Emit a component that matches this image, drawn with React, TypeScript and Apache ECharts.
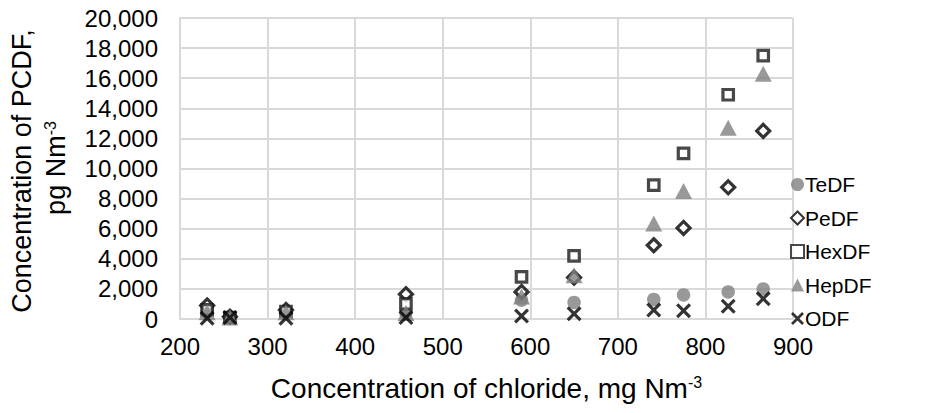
import React, { useEffect, useRef } from "react";
import * as echarts from "echarts";

const chloride = [231, 257, 321, 458, 590, 650, 741, 775, 826, 866];
const teDF = [500, 150, 500, 400, 1250, 1100, 1300, 1600, 1800, 2000];
const peDF = [900, 150, 600, 1650, 1800, 2750, 4900, 6050, 8750, 12500];
const hexDF = [600, 100, 500, 1000, 2800, 4200, 8900, 11000, 14900, 17500];
const hepDF = [450, 100, 450, 400, 1500, 2900, 6350, 8500, 12700, 16300];
const oDF = [50, 100, 50, 100, 200, 350, 600, 550, 850, 1350];

const seriesNames = ["TeDF", "PeDF", "HexDF", "HepDF", "ODF"];
const yTitleLine1 = "Concentration of PCDF,";
const yTitleLine2 = "pg Nm{sup|-3}";
const xTitle = "Concentration of chloride, mg Nm{sup|-3}";

const FONT = "'Liberation Sans', Arial, sans-serif";
const X_PATH =
  "path://M0,1.5 L1.5,0 L5,3.5 L8.5,0 L10,1.5 L6.5,5 L10,8.5 L8.5,10 L5,6.5 L1.5,10 L0,8.5 L3.5,5 Z";
const GRID_COLOR = "#d9d9d9";

export default function App() {
  const ref = useRef<HTMLDivElement>(null);
  useEffect(() => {
    document.body.style.margin = "0";
    const chart = echarts.init(ref.current!, undefined, { renderer: "svg" });
    const pts = (ys: number[]) => chloride.map((x, i) => [x, ys[i]]);
    const sup = {
      fontSize: 16,
      verticalAlign: "top",
      padding: [0, 0, 12, 0],
      fontFamily: FONT,
      color: "#000",
    };
    chart.setOption({
      animation: false,
      backgroundColor: "#ffffff",
      textStyle: { fontFamily: FONT },
      grid: {
        left: 180,
        top: 18,
        width: 613,
        height: 301,
        containLabel: false,
        outerBoundsMode: "none",
      },
      graphic: [
        {
          type: "text",
          x: 22,
          y: 171,
          rotation: Math.PI / 2,
          style: {
            text: yTitleLine1,
            fontSize: 27,
            fontFamily: FONT,
            fill: "#000",
            align: "center",
            verticalAlign: "middle",
          },
        },
        {
          type: "text",
          x: 56,
          y: 168,
          rotation: Math.PI / 2,
          style: {
            text: yTitleLine2,
            fontSize: 27,
            fontFamily: FONT,
            fill: "#000",
            align: "center",
            verticalAlign: "middle",
            rich: { sup: { ...sup, fill: "#000" } },
          },
        },
      ],
      xAxis: {
        type: "value",
        min: 200,
        max: 900,
        interval: 100,
        axisLine: { show: true, lineStyle: { color: GRID_COLOR, width: 2 } },
        axisTick: { show: false },
        splitLine: { show: true, lineStyle: { color: GRID_COLOR, width: 2 } },
        axisLabel: { color: "#000", fontSize: 24, fontFamily: FONT, margin: 15 },
        name: xTitle,
        nameLocation: "middle",
        nameGap: 55,
        nameTextStyle: {
          color: "#000",
          fontSize: 28,
          fontFamily: FONT,
          rich: { sup },
        },
      },
      yAxis: {
        type: "value",
        min: 0,
        max: 20000,
        interval: 2000,
        axisLine: { show: true, lineStyle: { color: GRID_COLOR, width: 2 } },
        axisTick: { show: false },
        splitLine: { show: true, lineStyle: { color: GRID_COLOR, width: 2 } },
        axisLabel: {
          color: "#000",
          fontSize: 24,
          fontFamily: FONT,
          margin: 22,
          formatter: (v: number) => v.toLocaleString("en-US"),
        },
      },
      legend: {
        orient: "vertical",
        left: 785,
        top: 169,
        itemWidth: 13,
        itemHeight: 13,
        itemGap: 12.5,
        textStyle: { color: "#000", fontSize: 21, lineHeight: 21, fontFamily: FONT, padding: [0, 0, 0, -4] },
        data: seriesNames,
      },
      series: [
        {
          name: seriesNames[0],
          type: "scatter",
          data: pts(teDF),
          symbol: "circle",
          symbolSize: 13.5,
          itemStyle: { color: "#808080" },
        },
        {
          name: seriesNames[1],
          type: "scatter",
          data: pts(peDF),
          symbol: "diamond",
          symbolSize: [13, 13],
          itemStyle: { color: "#ffffff", borderColor: "#000000", borderWidth: 3.2 },
        },
        {
          name: seriesNames[2],
          type: "scatter",
          data: pts(hexDF),
          symbol: "rect",
          symbolSize: 10.5,
          itemStyle: { color: "#ffffff", borderColor: "#1a1a1a", borderWidth: 3.2 },
        },
        {
          name: seriesNames[3],
          type: "scatter",
          data: pts(hepDF),
          symbol: "triangle",
          symbolSize: [17, 16],
          itemStyle: { color: "#808080" },
        },
        {
          name: seriesNames[4],
          type: "scatter",
          data: pts(oDF),
          symbol: X_PATH,
          symbolSize: 15,
          itemStyle: { color: "#000000" },
        },
      ],
    });
    return () => chart.dispose();
  }, []);
  return <div ref={ref} style={{ width: 934, height: 413 }} />;
}
